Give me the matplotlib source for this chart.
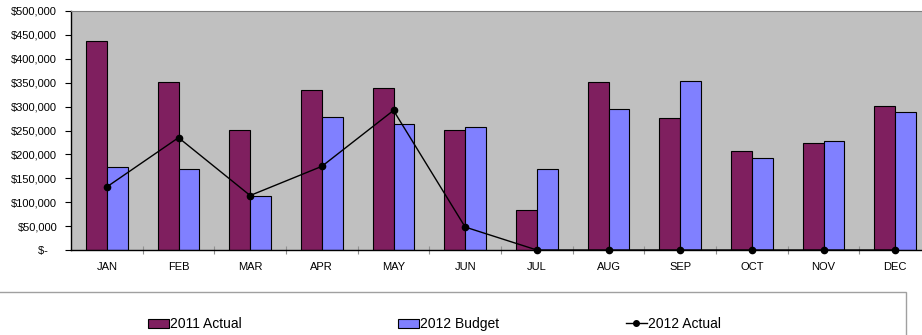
import numpy as np
import matplotlib.pyplot as plt
from matplotlib.patches import Rectangle
from matplotlib.lines import Line2D
from matplotlib.ticker import FuncFormatter

months = ['JAN', 'FEB', 'MAR', 'APR', 'MAY', 'JUN',
          'JUL', 'AUG', 'SEP', 'OCT', 'NOV', 'DEC']
actual_2011 = [437000, 351000, 252000, 334000, 338000, 252000,
               84000, 351000, 277000, 208000, 223000, 302000]
budget_2012 = [174000, 170000, 113000, 279000, 263000, 258000,
               170000, 294000, 353000, 193000, 227000, 288000]
actual_2012 = [132000, 235000, 114000, 175000, 292000, 48000,
               0, 0, 0, 0, 0, 0]

plt.rcParams['font.family'] = ['Liberation Sans', 'DejaVu Sans']

fig = plt.figure(figsize=(9.22, 3.35), dpi=100)
# plot area runs a bit past the right edge of the figure
ax = fig.add_axes([71 / 922, 85 / 335, 860 / 922, 239 / 335])
ax.set_facecolor('#c0c0c0')

x = np.arange(len(months))
w = 0.29
ax.bar(x - w / 2, actual_2011, w, color='#7f1f5f', edgecolor='black', linewidth=0.8, zorder=2)
ax.bar(x + w / 2, budget_2012, w, color='#8080ff', edgecolor='black', linewidth=0.8, zorder=2)
ax.plot(x, actual_2012, color='black', linewidth=1, marker='o', markersize=4.5,
        zorder=3, clip_on=False)

ax.set_xlim(-0.5, 11.5)
ax.set_ylim(0, 500000)
ax.set_yticks(np.arange(0, 500001, 50000))


def money(v, pos):
    if v == 0:
        return '$-   '
    return '${:,.0f}'.format(v)


ax.yaxis.set_major_formatter(FuncFormatter(money))
ax.tick_params(axis='y', direction='out', length=4, width=0.8, labelsize=8, pad=6)

ax.set_xticks(x)
ax.set_xticklabels(months)
ax.set_xticks(x[:-1] + 0.5, minor=True)
ax.tick_params(axis='x', which='major', length=0, labelsize=8, pad=9)
ax.tick_params(axis='x', which='minor', direction='inout', length=6, width=0.8, color='#909090')

ax.spines['top'].set_color('#808080')
ax.spines['right'].set_visible(False)
ax.spines['left'].set_linewidth(1)
ax.spines['bottom'].set_linewidth(1)

# legend box along the bottom
fig.add_artist(Rectangle((-0.01, -0.1), 0.01 + 906 / 922, 0.1 + 43 / 335,
                         transform=fig.transFigure, facecolor='none',
                         edgecolor='#a0a0a0', linewidth=1, clip_on=False))

handles = [
    Rectangle((0, 0), 1, 1, facecolor='#7f1f5f', edgecolor='black', linewidth=0.8),
    Rectangle((0, 0), 1, 1, facecolor='#8080ff', edgecolor='black', linewidth=0.8),
    Line2D([], [], color='black', linewidth=1, marker='o', markersize=4),
]
names = ['2011 Actual', '2012 Budget', '2012 Actual']
spots = [148, 398, 626]
for h, name, px in zip(handles, names, spots):
    fig.legend([h], [name], loc='center left', bbox_to_anchor=(px / 922, 11 / 335),
               frameon=False, fontsize=10, handlelength=1.5, handleheight=0.6,
               handletextpad=0.1, borderpad=0, borderaxespad=0)

fig.savefig('out.png', dpi=100)
